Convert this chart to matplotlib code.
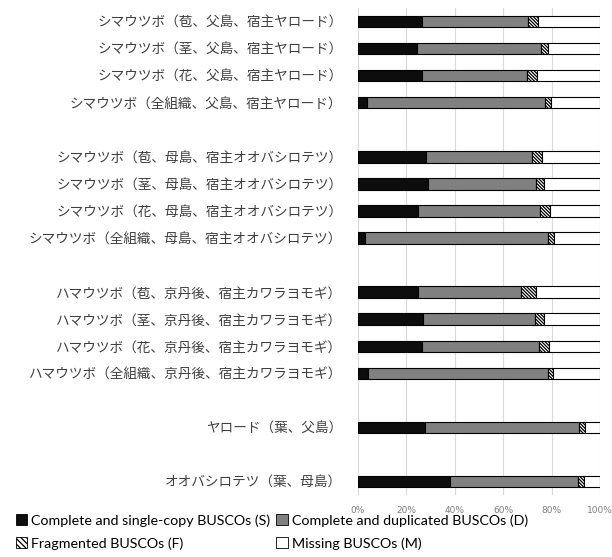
import numpy as np
import matplotlib.pyplot as plt
from matplotlib.patches import Patch
import matplotlib as mpl

mpl.rcParams['hatch.linewidth'] = 0.9

# data (percent of BUSCOs)
labels = ['シマウツボ（苞、父島、宿主ヤロード）',
          'シマウツボ（茎、父島、宿主ヤロード）',
          'シマウツボ（花、父島、宿主ヤロード）',
          'シマウツボ（全組織、父島、宿主ヤロード）',
          'シマウツボ（苞、母島、宿主オオバシロテツ）',
          'シマウツボ（茎、母島、宿主オオバシロテツ）',
          'シマウツボ（花、母島、宿主オオバシロテツ）',
          'シマウツボ（全組織、母島、宿主オオバシロテツ）',
          'ハマウツボ（苞、京丹後、宿主カワラヨモギ）',
          'ハマウツボ（茎、京丹後、宿主カワラヨモギ）',
          'ハマウツボ（花、京丹後、宿主カワラヨモギ）',
          'ハマウツボ（全組織、京丹後、宿主カワラヨモギ）',
          'ヤロード（葉、父島）',
          'オオバシロテツ（葉、母島）']
single = [26.4, 24.3, 26.4, 4.0, 28.2, 28.9, 24.9, 2.9, 24.9, 26.8, 26.4, 4.3, 27.9, 38.1]
dup = [43.8, 51.2, 43.3, 73.3, 43.6, 44.7, 50.5, 75.5, 42.6, 46.5, 48.6, 74.1, 63.6, 52.8]
frag = [4.1, 3.2, 4.2, 2.3, 4.1, 3.4, 3.8, 2.5, 6.1, 3.5, 3.8, 2.3, 2.2, 2.6]
missing = [25.7, 21.3, 26.1, 20.4, 24.1, 23.0, 20.8, 19.1, 26.4, 23.2, 21.2, 19.3, 6.3, 6.5]
ypos = [0, 1, 2, 3, 5, 6, 7, 8, 10, 11, 12, 13, 15, 17]

legend_names = ['Complete and single-copy BUSCOs (S)', 'Complete and duplicated BUSCOs (D)',
                'Fragmented BUSCOs (F)', 'Missing BUSCOs (M)']

fig = plt.figure(figsize=(6.12, 5.57), dpi=100)
ax = fig.add_axes([0.5845, 0.1113, 0.3959, 0.8743])

s = np.array(single)
d = np.array(dup)
f = np.array(frag)
m = np.array(missing)
h = 0.42
hatch = '\\' * 10
kw = dict(height=h, edgecolor='black', linewidth=0.8, zorder=3)
ax.barh(ypos, s, left=0, color='#0d0d0d', **kw)
ax.barh(ypos, d, left=s, color='#808080', **kw)
ax.barh(ypos, f, left=s + d, color='white', hatch=hatch, **kw)
ax.barh(ypos, m, left=s + d + f, color='white', **kw)

ax.set_xlim(0, 100)
ax.set_ylim(17.5, -0.5)
ax.set_xticks(range(0, 101, 20))
ax.set_xticklabels(['%d%%' % v for v in range(0, 101, 20)], fontsize=6.5, color='#7f7f7f')
ax.set_yticks(ypos)
ax.set_yticklabels(labels, fontsize=9.8, color='#404040', family=['Noto Sans CJK JP', 'DejaVu Sans'])
ax.tick_params(axis='both', length=0)
ax.tick_params(axis='y', pad=11)
ax.tick_params(axis='x', pad=8)
for sp in ax.spines.values():
    sp.set_visible(False)
ax.grid(axis='x', color='#d9d9d9', linewidth=0.8, zorder=0)
ax.set_axisbelow(True)

patches = [Patch(facecolor='#0d0d0d', edgecolor='black', linewidth=0.6),
           Patch(facecolor='#808080', edgecolor='black', linewidth=0.6),
           Patch(facecolor='white', edgecolor='black', linewidth=0.6, hatch='\\' * 6),
           Patch(facecolor='white', edgecolor='black', linewidth=0.6)]
# legend fills by column, reorder so rows read S D / F M
order = [0, 2, 1, 3]
fig.legend([patches[i] for i in order], [legend_names[i] for i in order],
           loc='upper left', bbox_to_anchor=(0.026, 0.077), ncol=2,
           frameon=False, handlelength=0.8, handleheight=0.8, handletextpad=0.25,
           columnspacing=0.45, labelspacing=0.75, borderaxespad=0, borderpad=0,
           prop={'family': 'Lato', 'size': 10.3})

fig.savefig('out.png', dpi=100)
